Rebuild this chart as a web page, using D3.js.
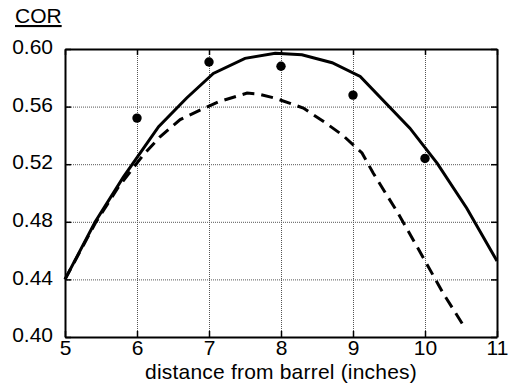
<!DOCTYPE html>
<html>
<head>
<meta charset="utf-8">
<script src="https://cdn.jsdelivr.net/npm/d3@7"></script>
<style>
  body { margin: 0; background: #fff; }
  text { font-family: "Liberation Sans", Arial, sans-serif; fill: #000; }
</style>
</head>
<body>
<div id="chart"></div>
<script>
// Data
const measuredX = [6, 7, 8, 9, 10];
const measuredCOR = [0.552, 0.591, 0.588, 0.568, 0.524];

const solidX = [5.0, 5.42, 5.81, 6.3, 6.69, 7.06, 7.5, 7.92, 8.29, 8.71, 9.1, 9.79, 10.17, 10.58, 11.0];
const solidCOR = [0.440, 0.480, 0.511, 0.546, 0.566, 0.583, 0.5935, 0.597, 0.596, 0.5905, 0.581, 0.545, 0.5206, 0.4894, 0.4528];

const dashedX = [5.0, 5.42, 5.74, 6.08, 6.32, 6.6, 6.875, 7.125, 7.53, 7.68, 7.92, 8.31, 8.61, 8.86, 9.125, 9.28, 9.625, 9.97, 10.25, 10.53];
const dashedCOR = [0.440, 0.479, 0.504, 0.526, 0.539, 0.551, 0.5576, 0.5632, 0.5694, 0.5688, 0.5658, 0.559, 0.549, 0.540, 0.5278, 0.5139, 0.486, 0.4556, 0.4306, 0.4083];

const xTicks = [5, 6, 7, 8, 9, 10, 11];
const yTicks = [0.40, 0.44, 0.48, 0.52, 0.56, 0.60];

// Dimensions
const width = 508;
const height = 387;
const margin = { top: 49, right: 11, bottom: 50, left: 65 };
const boundedWidth = width - margin.left - margin.right;
const boundedHeight = height - margin.top - margin.bottom;

const svg = d3.select("#chart").append("svg")
  .attr("width", width)
  .attr("height", height);

const bounds = svg.append("g")
  .attr("transform", `translate(${margin.left},${margin.top})`);

// Scales
const xScale = d3.scaleLinear().domain([5, 11]).range([0, boundedWidth]);
const yScale = d3.scaleLinear().domain([0.40, 0.60]).range([boundedHeight, 0]);

// Grid
const gridX = bounds.append("g")
  .attr("transform", `translate(0,${boundedHeight})`)
  .call(d3.axisBottom(xScale).tickValues(xTicks.slice(1, -1)).tickSize(-boundedHeight).tickFormat(""));
const gridY = bounds.append("g")
  .call(d3.axisLeft(yScale).tickValues(yTicks.slice(1, -1)).tickSize(-boundedWidth).tickFormat(""));
[gridX, gridY].forEach(g => {
  g.select(".domain").remove();
  g.selectAll("line")
    .attr("stroke", "#555")
    .attr("stroke-width", 1)
    .attr("stroke-dasharray", "1,1");
});

// Lines
const line = (xs, ys) => d3.line()
  .x((d, i) => xScale(xs[i]))
  .y((d, i) => yScale(ys[i]))(xs);

bounds.append("path")
  .attr("d", line(dashedX, dashedCOR))
  .attr("fill", "none")
  .attr("stroke", "#000")
  .attr("stroke-width", 3)
  .attr("stroke-dasharray", "12,7");

bounds.append("path")
  .attr("d", line(solidX, solidCOR))
  .attr("fill", "none")
  .attr("stroke", "#000")
  .attr("stroke-width", 3);

// Points
bounds.selectAll("circle")
  .data(measuredX)
  .join("circle")
  .attr("cx", d => xScale(d))
  .attr("cy", (d, i) => yScale(measuredCOR[i]))
  .attr("r", 4.7)
  .attr("fill", "#000");

// Axes (ticks pointing inward)
const xAxis = bounds.append("g")
  .attr("transform", `translate(0,${boundedHeight})`)
  .call(d3.axisBottom(xScale).tickValues(xTicks).tickSizeInner(-6).tickSizeOuter(0).tickPadding(3).tickFormat(d3.format("d")));
const yAxis = bounds.append("g")
  .call(d3.axisLeft(yScale).tickValues(yTicks).tickSizeInner(-6).tickSizeOuter(0).tickPadding(12).tickFormat(d3.format(".2f")));
const topAxis = bounds.append("g")
  .call(d3.axisTop(xScale).tickValues(xTicks).tickSizeInner(-6).tickSizeOuter(0).tickFormat(""));
const rightAxis = bounds.append("g")
  .attr("transform", `translate(${boundedWidth},0)`)
  .call(d3.axisRight(yScale).tickValues(yTicks).tickSizeInner(-6).tickSizeOuter(0).tickFormat(""));

[xAxis, yAxis, topAxis, rightAxis].forEach(g => {
  g.select(".domain").attr("stroke", "#000").attr("stroke-width", 2);
  g.selectAll(".tick line").attr("stroke", "#000").attr("stroke-width", 1.5);
  g.selectAll("text")
    .style("font-size", "21px")
    .attr("fill", "#000");
});
yAxis.selectAll("text").attr("dy", "0.22em");

// Axis labels
svg.append("text")
  .attr("x", 281)
  .attr("y", 379)
  .attr("text-anchor", "middle")
  .style("font-size", "21px")
  .style("letter-spacing", "0.2px")
  .text("distance from barrel (inches)");

svg.append("text")
  .attr("x", 15)
  .attr("y", 23)
  .style("font-size", "21px")
  .style("text-decoration", "underline")
  .text("COR");
</script>
</body>
</html>
